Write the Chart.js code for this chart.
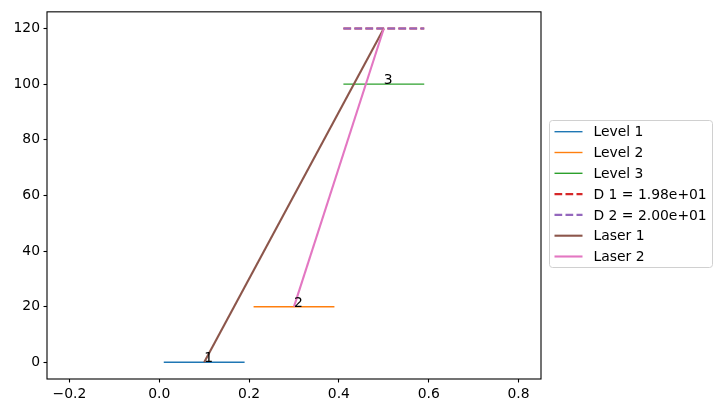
<!DOCTYPE html>
<html>
<head>
<meta charset="utf-8">
<script src="https://cdn.jsdelivr.net/npm/chart.js@4/dist/chart.umd.min.js"></script>
<style>
  html, body { margin: 0; padding: 0; background: #fff; }
  #wrap { width: 722px; height: 413px; }
</style>
</head>
<body>
<div id="wrap"><canvas id="diagrama" width="722" height="413"></canvas></div>
<script>
// niveles de energia
const levelNames = ['Level 1', 'Level 2', 'Level 3'];
const levelEnergies = [0, 20, 100];
const levelStartX = [0.01, 0.21, 0.41];
const levelEndX = [0.19, 0.39, 0.59];
const levelTags = ['1', '2', '3'];
const levelTagX = [0.1, 0.3, 0.5];

// lineas discontinuas
const dashNames = ['D 1 = 1.98e+01', 'D 2 = 2.00e+01'];
const dashEnergies = [120, 120];
const dashStartX = [0.41, 0.41];
const dashEndX = [0.59, 0.59];

// transiciones laser
const laserNames = ['Laser 1', 'Laser 2'];
const laserFromX = [0.1, 0.3];
const laserFromY = [0, 20];
const laserToX = [0.5, 0.5];
const laserToY = [120, 120];

const xTicks = [-0.2, 0.0, 0.2, 0.4, 0.6, 0.8];
const yTicks = [0, 20, 40, 60, 80, 100, 120];

const colores = ['#1f77b4', '#ff7f0e', '#2ca02c', '#d62728', '#9467bd', '#8c564b', '#e377c2'];
const FONT = '"DejaVu Sans", sans-serif';

const datasets = [];
levelNames.forEach((nombre, i) => {
  datasets.push({
    label: nombre,
    data: [{ x: levelStartX[i], y: levelEnergies[i] }, { x: levelEndX[i], y: levelEnergies[i] }],
    borderColor: colores[i],
    borderWidth: 1.4
  });
});
dashNames.forEach((nombre, i) => {
  datasets.push({
    label: nombre,
    data: [{ x: dashStartX[i], y: dashEnergies[i] }, { x: dashEndX[i], y: dashEnergies[i] }],
    borderColor: colores[3 + i],
    borderWidth: 2.1,
    borderDash: [7.7, 3.3]
  });
});
laserNames.forEach((nombre, i) => {
  datasets.push({
    label: nombre,
    data: [{ x: laserFromX[i], y: laserFromY[i] }, { x: laserToX[i], y: laserToY[i] }],
    borderColor: colores[5 + i],
    borderWidth: 2.1
  });
});
// los ultimos se pintan encima
datasets.forEach((d, i) => {
  d.showLine = true;
  d.pointRadius = 0;
  d.fill = false;
  d.tension = 0;
  d.order = -i;
});

// marco, etiquetas y leyenda
const extras = {
  id: 'extras',
  afterDatasetsDraw(chart) {
    const ctx = chart.ctx;
    const xs = chart.scales.x, ys = chart.scales.y;
    ctx.save();
    ctx.fillStyle = '#000';
    ctx.font = '13.9px ' + FONT;
    ctx.textAlign = 'left';
    ctx.textBaseline = 'alphabetic';
    levelTags.forEach((t, i) => {
      ctx.fillText(t, xs.getPixelForValue(levelTagX[i]), ys.getPixelForValue(levelEnergies[i]));
    });
    ctx.restore();
  },
  afterDraw(chart) {
    const ctx = chart.ctx;
    const a = chart.chartArea;
    ctx.save();
    ctx.strokeStyle = '#000';
    ctx.lineWidth = 1.1;
    ctx.strokeRect(a.left, a.top, a.right - a.left, a.bottom - a.top);

    // leyenda
    const lx = 549.5, ly = 120.5, lw = 163, lh = 147, r = 3;
    ctx.fillStyle = 'rgba(255,255,255,0.8)';
    ctx.strokeStyle = '#d0d0d0';
    ctx.lineWidth = 1;
    ctx.beginPath();
    ctx.roundRect(lx, ly, lw, lh, r);
    ctx.fill();
    ctx.stroke();

    ctx.font = '13.9px ' + FONT;
    ctx.textBaseline = 'middle';
    ctx.textAlign = 'left';
    chart.data.datasets.forEach((d, i) => {
      const y = 131.7 + i * 20.8;
      ctx.strokeStyle = d.borderColor;
      ctx.lineWidth = d.borderWidth;
      ctx.setLineDash(d.borderDash || []);
      ctx.beginPath();
      ctx.moveTo(554.5, y);
      ctx.lineTo(582.5, y);
      ctx.stroke();
      ctx.setLineDash([]);
      ctx.fillStyle = '#000';
      ctx.fillText(d.label, 593.5, y + 1);
    });
    ctx.restore();
  }
};

const fmt = v => {
  const s = Math.abs(v).toFixed(1);
  return v < -1e-9 ? '\u2212' + s : s;
};

new Chart(document.getElementById('diagrama'), {
  type: 'scatter',
  data: { datasets },
  options: {
    responsive: false,
    devicePixelRatio: 1,
    animation: false,
    layout: { padding: { top: 9.5, right: 181, left: 0, bottom: 0 } },
    plugins: { legend: { display: false }, tooltip: { enabled: false } },
    scales: {
      x: {
        type: 'linear',
        min: -0.25,
        max: 0.85,
        afterBuildTicks: s => { s.ticks = xTicks.map(v => ({ value: v })); },
        afterFit: s => { s.height = 34; },
        grid: { drawOnChartArea: false, drawTicks: true, tickLength: 3.5, tickColor: '#000', tickWidth: 1.1 },
        border: { display: false },
        ticks: { color: '#000', font: { family: FONT, size: 13.9 }, padding: 3.5, maxRotation: 0, callback: v => fmt(v) }
      },
      y: {
        type: 'linear',
        min: -6,
        max: 126,
        afterBuildTicks: s => { s.ticks = yTicks.map(v => ({ value: v })); },
        afterFit: s => { s.width = 47; },
        grid: { drawOnChartArea: false, drawTicks: true, tickLength: 3.5, tickColor: '#000', tickWidth: 1.1 },
        border: { display: false },
        ticks: { color: '#000', font: { family: FONT, size: 13.9 }, padding: 3.5, callback: v => String(v) }
      }
    }
  },
  plugins: [extras]
});
</script>
</body>
</html>
